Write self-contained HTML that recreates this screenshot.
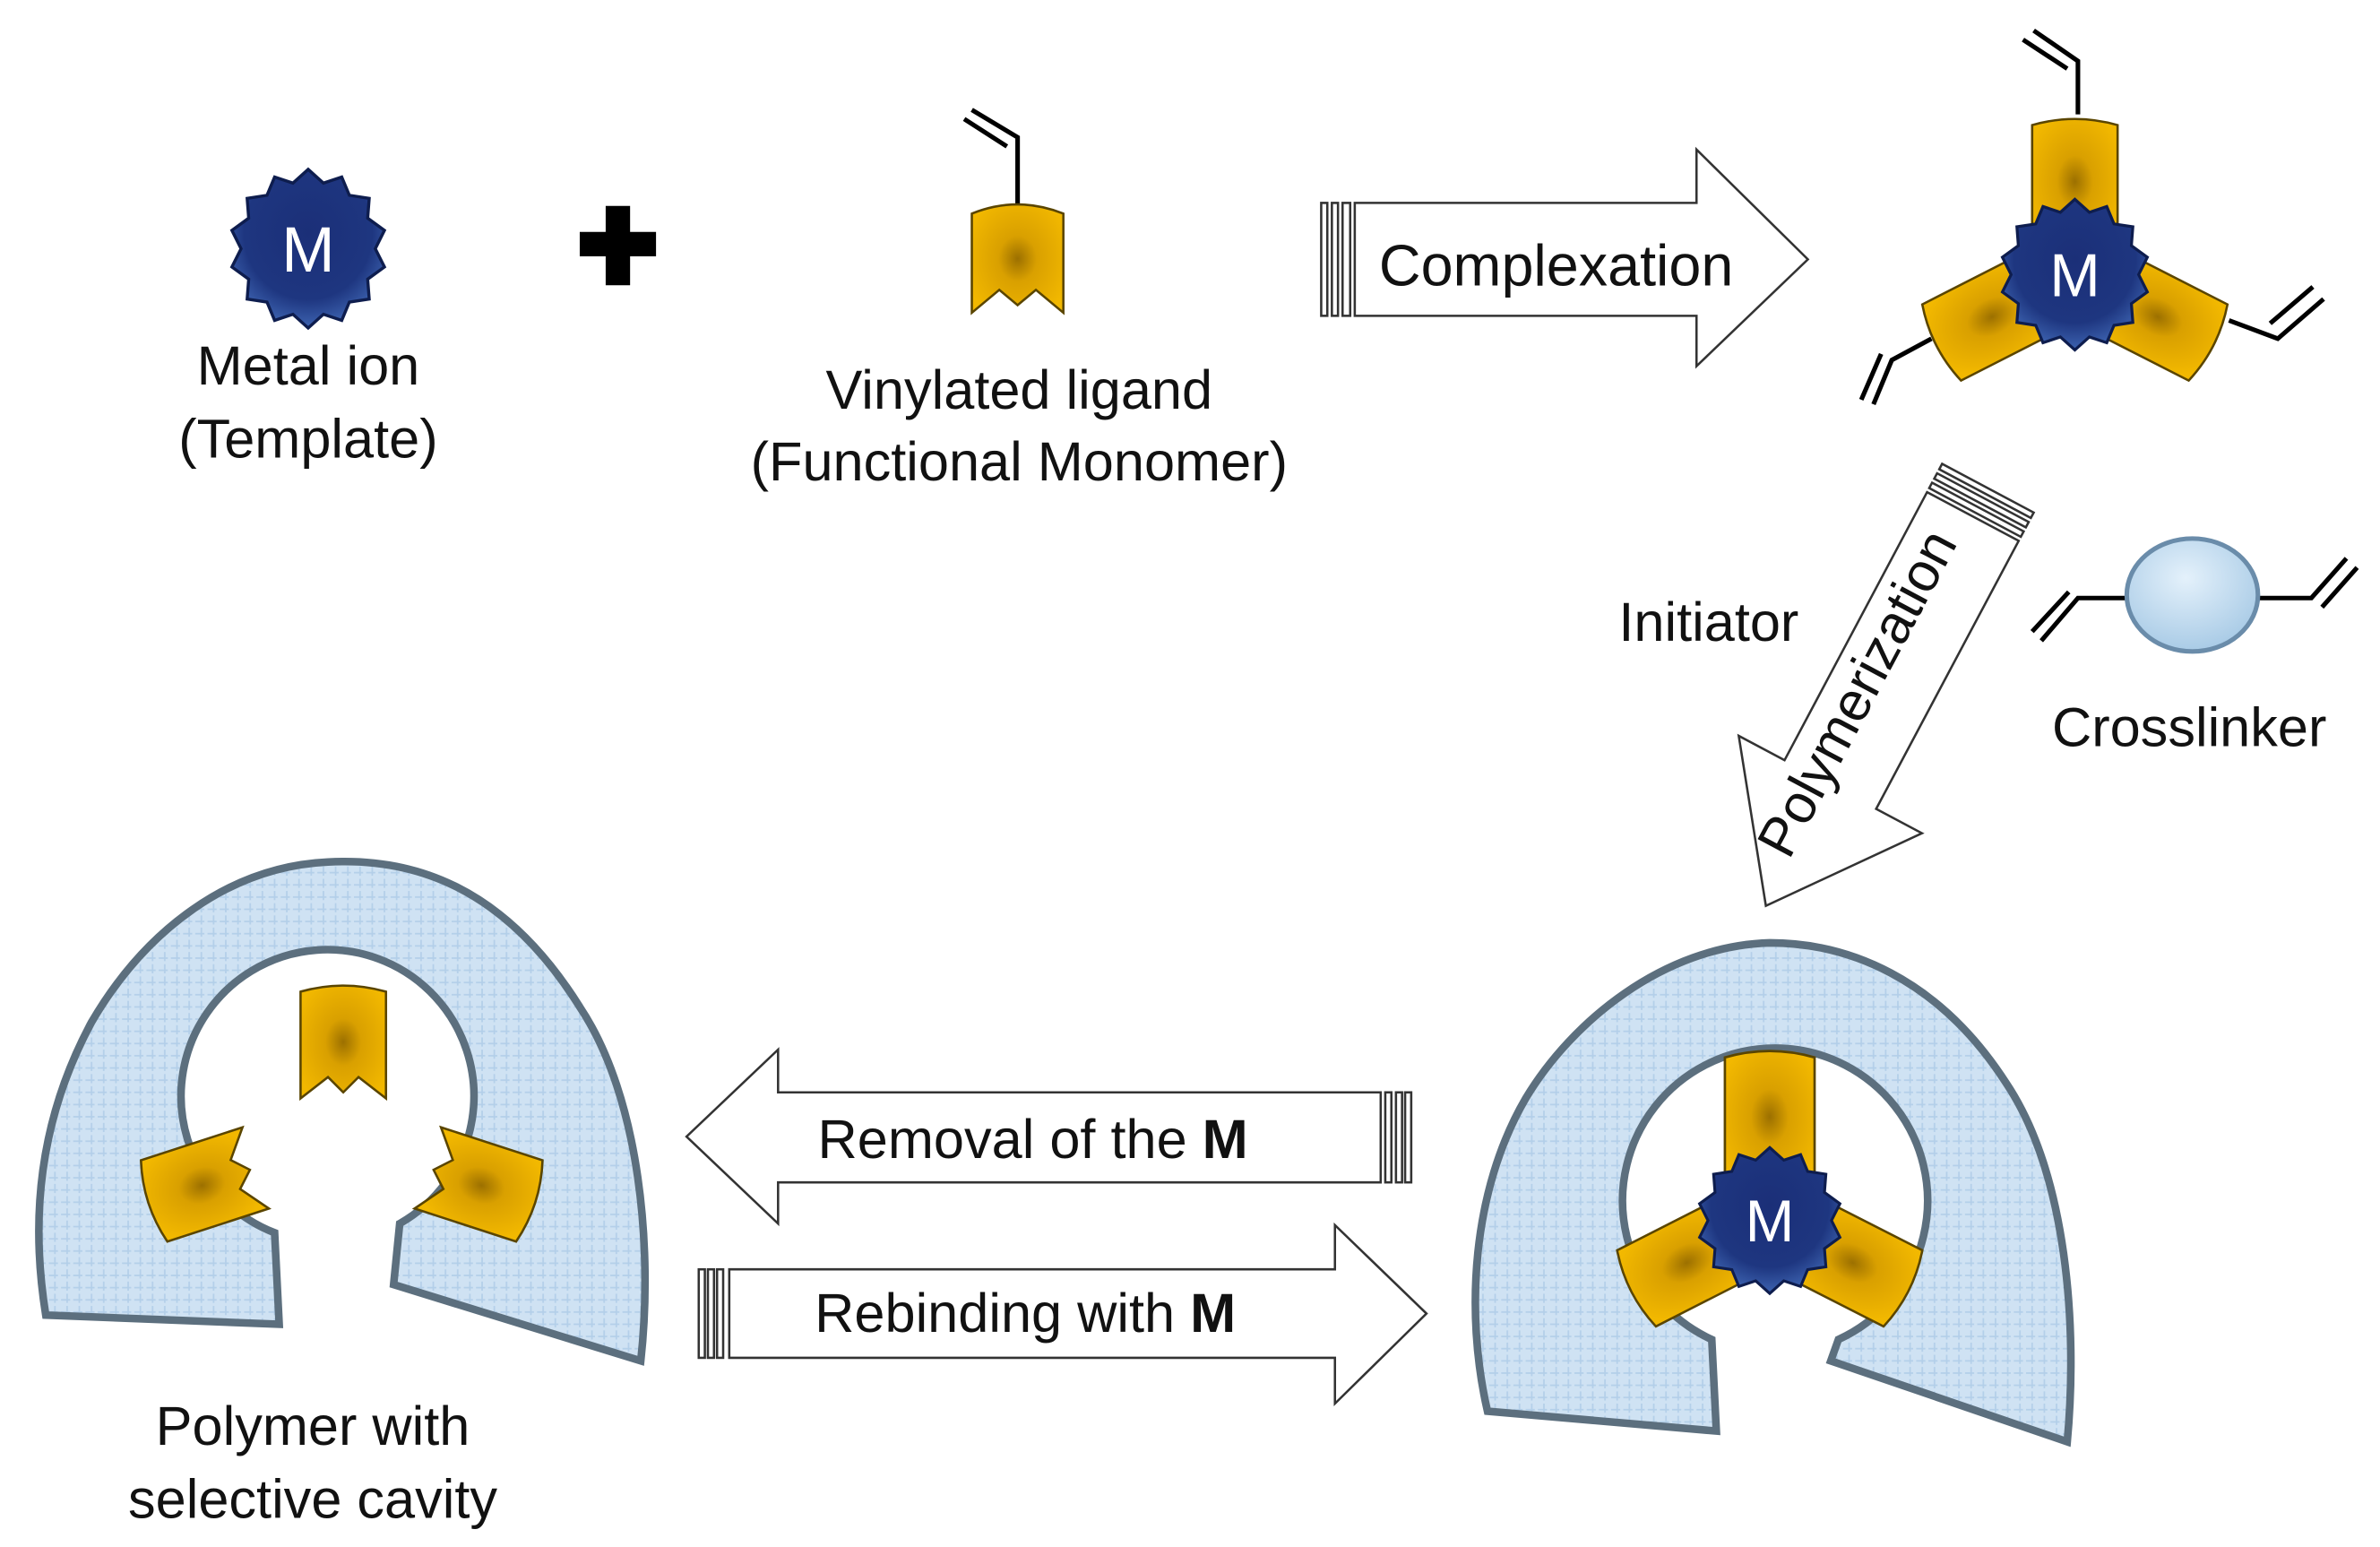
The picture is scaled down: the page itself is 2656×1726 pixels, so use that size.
<!DOCTYPE html>
<html><head><meta charset="utf-8"><style>
html,body{margin:0;padding:0;background:#fff;width:2656px;height:1726px;overflow:hidden}
svg{display:block}
text{font-family:"Liberation Sans",Arial,sans-serif;fill:#111}
</style></head><body>
<svg width="2656" height="1726" viewBox="0 0 1560 1014" preserveAspectRatio="none" xmlns="http://www.w3.org/2000/svg">
<defs>
<radialGradient id="gold" cx="50%" cy="50%" r="60%">
<stop offset="0" stop-color="#9c7000"/><stop offset="0.35" stop-color="#d9a000"/><stop offset="1" stop-color="#f2b800"/>
</radialGradient>
<radialGradient id="navy" cx="50%" cy="40%" r="60%">
<stop offset="0" stop-color="#1b2f78"/><stop offset="0.7" stop-color="#1e3680"/><stop offset="1" stop-color="#3d63b0"/>
</radialGradient>
<radialGradient id="ball" cx="45%" cy="35%" r="65%">
<stop offset="0" stop-color="#e4f1fb"/><stop offset="1" stop-color="#a9cbe6"/>
</radialGradient>
<pattern id="mesh" width="8" height="8" patternUnits="userSpaceOnUse">
<rect width="8" height="8" fill="#cfe2f3"/><path d="M0 4H6M4 0V6" stroke="#b3cfe9" stroke-width="1"/>
</pattern>
<g id="star">
<polygon points="0,-52 10,-43 22,-47 27,-35 40,-33 39,-20 50,-12 44,0 50,12 39,20 40,33 27,35 22,47 10,43 0,52 -10,43 -22,47 -27,35 -40,33 -39,20 -50,12 -44,0 -50,-12 -39,-20 -40,-33 -27,-35 -22,-47 -10,-43" fill="url(#navy)" stroke="#0e1d4e" stroke-width="2"/>
<text x="0" y="15" text-anchor="middle" font-size="42" style="fill:#fff">M</text>
</g>
<g id="arm"><path d="M-28,-20 V-98 Q0,-106 28,-98 V-20 Z" fill="url(#gold)" stroke="#5a4500" stroke-width="1.5"/></g>
<g id="notcharm"><path d="M-28,8 V-62 Q0,-70 28,-62 V8 L10,-6 L0,4 L-10,-6 Z" fill="url(#gold)" stroke="#5a4500" stroke-width="1.5"/></g>
</defs>

<!-- metal ion -->
<use href="#star" x="202" y="163"/>
<text x="202" y="252" text-anchor="middle" font-size="36">Metal ion</text>
<text x="202" y="300" text-anchor="middle" font-size="36">(Template)</text>
<!-- plus -->
<path d="M397,135h16v17h17v16h-17v19h-16v-19h-17v-16h17z" fill="#000"/>
<!-- ligand -->
<path d="M667,135V90L637,72M660,96L632,78" stroke="#000" stroke-width="3" fill="none"/>
<path d="M637,205V140Q667,128 697,140V205L679,190L667,200L655,190Z" fill="url(#gold)" stroke="#5a4500" stroke-width="1.5"/>
<text x="668" y="268" text-anchor="middle" font-size="36">Vinylated ligand</text>
<text x="668" y="315" text-anchor="middle" font-size="36">(Functional Monomer)</text>

<!-- complexation arrow -->
<g fill="#fff" stroke="#333" stroke-width="1.5">
<rect x="866" y="133" width="4" height="74"/><rect x="873" y="133" width="4" height="74"/><rect x="880" y="133" width="5" height="74"/>
<path d="M888,133H1112V98L1185,170L1112,240V207H888Z"/>
</g>
<text x="1020" y="187" text-anchor="middle" font-size="38">Complexation</text>

<!-- complex -->
<g stroke="#000" stroke-width="3" fill="none">
<path d="M1362,75V40L1333,20M1355,45L1326,26"/>
<path d="M1266,222L1240,236L1228,265M1233,232L1220,262"/>
<path d="M1461,210L1493,222L1523,196M1488,212L1516,188"/>
</g>
<g transform="translate(1360,180)"><use href="#arm" transform="rotate(0)"/><use href="#arm" transform="rotate(117)"/><use href="#arm" transform="rotate(243)"/><use href="#star" transform="scale(0.95)"/></g>

<!-- polymerization arrow -->
<g transform="translate(1303,320) rotate(118)" fill="#fff" stroke="#333" stroke-width="1.5">
<rect x="0" y="-34" width="4" height="68"/><rect x="7" y="-34" width="4" height="68"/><rect x="14" y="-34" width="4" height="68"/>
<path d="M21,-34H220V-68L310,0L220,68V34H21Z"/>
</g>
<text transform="translate(1228,460) rotate(-62)" text-anchor="middle" font-size="36">Polymerization</text>
<text x="1120" y="420" text-anchor="middle" font-size="36">Initiator</text>

<!-- crosslinker -->
<g stroke="#000" stroke-width="3" fill="none">
<path d="M1395,392H1362L1338,420M1356,388L1332,414"/>
<path d="M1480,392H1515L1538,366M1522,398L1545,372"/>
</g>
<ellipse cx="1437" cy="390" rx="43" ry="37" fill="url(#ball)" stroke="#6a8caa" stroke-width="3"/>
<text x="1435" y="489" text-anchor="middle" font-size="36">Crosslinker</text>

<!-- left polymer -->
<path d="M183,868 L180,808 A96,96 0 1 1 262,802 L258,842 L420,892 C428,820 420,720 380,660 C330,580 270,562 215,565 C150,568 95,610 60,670 C25,735 20,800 30,862 Z" fill="url(#mesh)" stroke="#5c6f7e" stroke-width="5"/>
<g transform="translate(225,712)"><use href="#notcharm"/></g>
<g transform="translate(160,768) rotate(-108)"><use href="#notcharm"/></g>
<g transform="translate(288,768) rotate(108)"><use href="#notcharm"/></g>
<text x="205" y="947" text-anchor="middle" font-size="36">Polymer with</text>
<text x="205" y="995" text-anchor="middle" font-size="36">selective cavity</text>

<!-- removal arrow -->
<g fill="#fff" stroke="#333" stroke-width="1.5">
<path d="M905,716H510V688L450,745L510,802V775H905Z"/>
<rect x="908" y="716" width="4" height="59"/><rect x="915" y="716" width="4" height="59"/><rect x="921" y="716" width="4" height="59"/>
</g>
<text x="536" y="759" font-size="36">Removal of the <tspan font-weight="bold">M</tspan></text>

<!-- rebinding arrow -->
<g fill="#fff" stroke="#333" stroke-width="1.5">
<rect x="458" y="832" width="4" height="58"/><rect x="464" y="832" width="4" height="58"/><rect x="470" y="832" width="4" height="58"/>
<path d="M478,832H875V803L935,861L875,920V890H478Z"/>
</g>
<text x="534" y="873" font-size="36">Rebinding with <tspan font-weight="bold">M</tspan></text>

<!-- right polymer -->
<path d="M1125,938 L1122,878 A100,100 0 1 1 1205,878 L1200,892 L1355,945 C1362,870 1355,770 1315,710 C1270,640 1210,618 1160,618 C1090,620 1030,670 1000,720 C965,780 960,860 975,925 Z" fill="url(#mesh)" stroke="#5c6f7e" stroke-width="5"/>
<g transform="translate(1160,800)"><use href="#arm" transform="translate(0,-4) scale(1.05)"/><use href="#arm" transform="rotate(117)"/><use href="#arm" transform="rotate(243)"/><use href="#star" transform="scale(0.92)"/></g>
</svg>
</body></html>
